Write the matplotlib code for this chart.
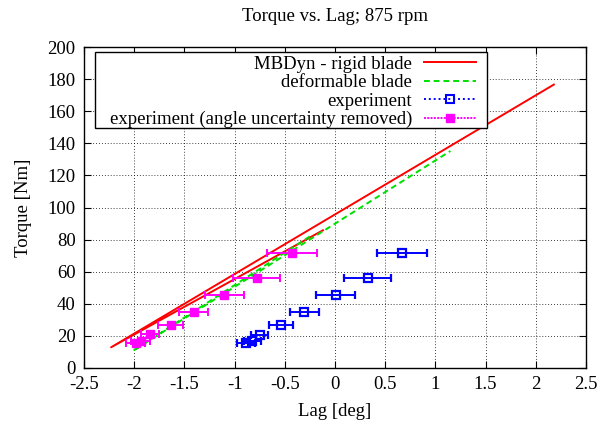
import matplotlib
matplotlib.use("Agg")
import matplotlib.pyplot as plt
from matplotlib.lines import Line2D
from matplotlib.patches import Rectangle
import numpy as np

plt.rcParams['font.family'] = ['Liberation Serif', 'DejaVu Serif']

# MBDyn simulations
rigid_lag = [-0.12, -2.23, 2.18]
rigid_torque = [85.8, 12.9, 176.6]
deform_lag = [-0.25, -2.01, 1.15]
deform_torque = [82.0, 10.8, 135.2]

# experiment
exp_lag = [0.665, 0.326, 0.007, -0.306, -0.538, -0.748, -0.824, -0.887]
exp_torque = [71.4, 56.0, 45.2, 35.0, 26.9, 20.8, 17.1, 15.4]
exp_err = [0.25, 0.232, 0.192, 0.147, 0.122, 0.085, 0.085, 0.09]

# experiment, angle uncertainty removed
expc_lag = [-0.432, -0.781, -1.104, -1.406, -1.635, -1.844, -1.937, -1.987]
expc_torque = [71.6, 56.0, 45.4, 34.8, 27.1, 21.0, 16.9, 15.4]
expc_err = [0.25, 0.235, 0.194, 0.146, 0.125, 0.087, 0.09, 0.09]

xticks = [-2.5, -2, -1.5, -1, -0.5, 0, 0.5, 1, 1.5, 2, 2.5]
xticklabels = ['-2.5', '-2', '-1.5', '-1', '-0.5', '0', '0.5', '1', '1.5', '2', '2.5']
yticks = [0, 20, 40, 60, 80, 100, 120, 140, 160, 180, 200]

RED = '#ff0000'
GREEN = '#00e000'
BLUE = '#0000ff'
MAGENTA = '#ff00ff'

FS = 13.5

fig = plt.figure(figsize=(6.01, 4.26), dpi=100)
ax = fig.add_axes([84/601, 1-368/426, (586-84)/601, (368-47)/426])

ax.set_xlim(-2.5, 2.5)
ax.set_ylim(0, 200)
ax.set_xticks(xticks)
ax.set_xticklabels(xticklabels)
ax.set_yticks(yticks)
ax.grid(True, color='black', linestyle=(0, (1, 2.5)), linewidth=0.6)
ax.tick_params(direction='in', top=True, right=True, length=5, width=0.8,
               labelsize=FS, pad=6)
for s in ax.spines.values():
    s.set_linewidth(1.0)

ax.plot(rigid_lag, rigid_torque, color=RED, lw=1.4, zorder=3)
ax.plot(deform_lag, deform_torque, color=GREEN, lw=1.4, linestyle=(0, (3, 2)), zorder=3)

ax.errorbar(exp_lag, exp_torque, xerr=exp_err, fmt='s', color=BLUE, ms=6,
            mfc='none', mec=BLUE, mew=1.6, elinewidth=1.4, capsize=2.8,
            capthick=1.4, zorder=4)
ax.errorbar(expc_lag, expc_torque, xerr=expc_err, fmt='s', color=MAGENTA, ms=6,
            mfc=MAGENTA, mec=MAGENTA, elinewidth=1.4, capsize=2.8,
            capthick=1.4, zorder=4)

ax.set_xlabel('Lag [deg]', fontsize=FS, labelpad=7)
ax.set_ylabel('Torque [Nm]', fontsize=FS, labelpad=11)
ax.set_title('Torque vs. Lag; 875 rpm', fontsize=13.5, pad=19)

# legend frame (gnuplot style key box)
ax.add_patch(Rectangle((0.0219, 0.7477), 0.781, 0.2368, transform=ax.transAxes,
                       facecolor='white', edgecolor='black', linewidth=1.0,
                       zorder=5))

handles = [
    Line2D([], [], color=RED, lw=1.4),
    Line2D([], [], color=GREEN, lw=1.4, linestyle=(0, (3, 2))),
    Line2D([], [], color=BLUE, lw=1.4, linestyle=(0, (1, 1.5)), marker='s',
           ms=5.5, mfc='none', mec=BLUE, mew=1.5),
    Line2D([], [], color=MAGENTA, lw=1.4, linestyle=(0, (1, 0.7)), marker='s',
           ms=5.5, mfc=MAGENTA, mec=MAGENTA),
]
labels = ['MBDyn - rigid blade', 'deformable blade', 'experiment',
          'experiment (angle uncertainty removed)']
leg = ax.legend(handles, labels, loc='upper right',
                bbox_to_anchor=((476 - 84) / 502, (368 - 55.5) / 321),
                markerfirst=False, fontsize=FS, frameon=False,
                handlelength=2.8, handletextpad=0.6, labelspacing=0.07,
                borderpad=0, borderaxespad=0, numpoints=1)
leg.set_zorder(6)

fig.savefig('out.png', dpi=100)
